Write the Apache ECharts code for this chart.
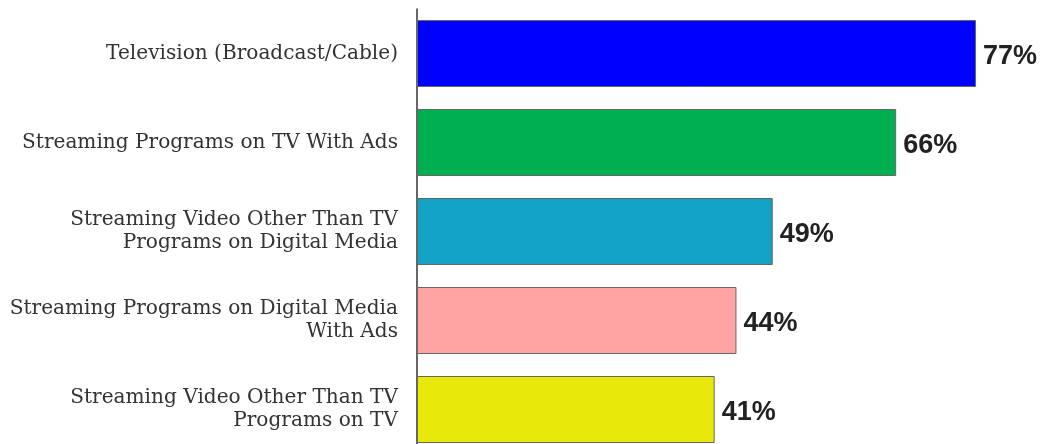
<!DOCTYPE html>
<html><head><meta charset="utf-8">
<script src="https://cdn.jsdelivr.net/npm/echarts@6/dist/echarts.min.js"></script>
<style>html,body{margin:0;padding:0;background:#fff}#c{width:1042px;height:444px}</style>
</head><body><div id="c"></div>
<script>
const categories = [
  "Television (Broadcast/Cable)",
  "Streaming Programs on TV With Ads",
  "Streaming Video Other Than TV\nPrograms on Digital Media",
  "Streaming Programs on Digital Media\nWith Ads",
  "Streaming Video Other Than TV\nPrograms on TV"
];
const values = [77, 66, 49, 44, 41];
const colors = ["#0000FF", "#00B050", "#12A2C6", "#FFA3A3", "#E8E80A"];

const chart = echarts.init(document.getElementById('c'));
chart.setOption({
  animation: false,
  grid: {left: 417, top: 9, width: 726, height: 445, containLabel: false, outerBoundsMode: 'none'},
  xAxis: {type: 'value', min: 0, max: 100, show: false},
  yAxis: {
    type: 'category', data: categories, inverse: true,
    axisLine: {show: true, lineStyle: {color: '#333', width: 1.5}},
    axisTick: {show: false},
    axisLabel: {margin: 19, fontFamily: 'DejaVu Serif', fontSize: 20.1, color: '#333', lineHeight: 23, align: 'right'}
  },
  series: [{
    type: 'bar', barWidth: 67,
    data: values.map((v, i) => ({value: v, itemStyle: {color: colors[i]}})),
    itemStyle: {borderColor: '#666', borderWidth: 1},
    label: {show: true, position: 'right', distance: 7, formatter: '{c}%', fontFamily: 'Liberation Sans', fontWeight: 'bold', fontSize: 27, color: '#222', offset: [0, 3]}
  }]
});
</script></body></html>
